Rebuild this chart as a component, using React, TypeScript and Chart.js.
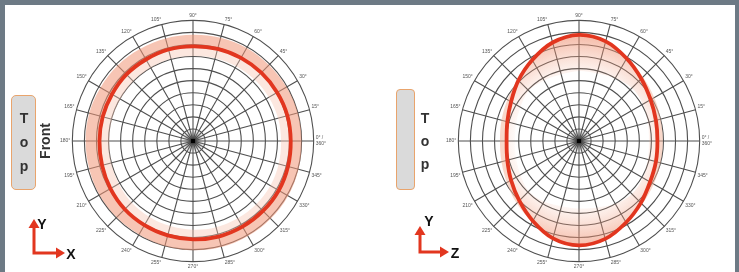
import React, { useEffect, useRef } from "react";
import { Chart, registerables } from "chart.js";

Chart.register(...registerables);

// Angle labels, clockwise starting from the top (90°), 0° on the right, counter-clockwise increase
const angleLabels: (string | string[])[] = [
  "90°", "75°", "60°", "45°", "30°", "15°", ["0° /", "360°"], "345°", "330°", "315°", "300°", "285°",
  "270°", "255°", "240°", "225°", "210°", "195°", "180°", "165°", "150°", "135°", "120°", "105°",
];

// Left plot (X-Y plane) – near-circular pattern
const leftPattern = [78.5, 79, 79.5, 80, 80.5, 81, 81, 81.5, 82, 82, 82, 82, 81.5, 81, 80.5, 80, 79, 78, 77.5, 77.5, 77.5, 78, 78, 78.5];
const leftBandOuter = [88, 88.5, 89, 89, 89.5, 90, 90, 90.5, 91, 91, 91, 91, 90.5, 90, 89.5, 89.5, 89.5, 89, 89, 89, 88.5, 88.5, 88, 88];
const leftBandInner = [70.5, 71, 71.5, 72, 72.5, 73, 73, 73.5, 74, 74, 74, 74, 73.5, 73, 72.5, 72, 71, 70, 69.5, 69.5, 69.5, 70, 70, 70.5];

// Right plot (Z-Y plane) – elliptical pattern
const rightPattern = [88, 85.5, 79, 73, 68.5, 66, 65, 66, 68, 72.5, 78, 84, 86.5, 83.5, 76.5, 70, 65, 61.5, 60, 61.5, 65, 71, 77.5, 84.5];
const rightBandOuter = [88.3, 86, 80.5, 75, 72, 70, 69.5, 70, 71.5, 74, 78.5, 84.2, 86.7, 84, 77.5, 73, 69, 66.5, 65.5, 66.5, 68.5, 72, 78, 84.7];
const rightBandInner = [58, 58, 60, 62, 61, 59, 58, 59, 61, 62, 60, 57, 56, 56, 58, 59, 56, 54, 53, 54, 56, 59, 58, 57];

// Hub at the centre of the grid
const hubShade = [10, 10, 10, 10, 10, 10, 10, 10, 10, 10, 10, 10, 10, 10, 10, 10, 10, 10, 10, 10, 10, 10, 10, 10];
const hubDot = [0, 0, 0, 0, 0, 0, 0, 0, 0, 0, 0, 0, 0, 0, 0, 0, 0, 0, 0, 0, 0, 0, 0, 0];

const RED = "#e2361f";
const GRID = "#4f4f4f";

function radialFill(stops: [number, string][]) {
  return (ctx: any) => {
    const chart = ctx.chart;
    const s = chart.scales && chart.scales.r;
    if (!s || !chart.chartArea || !isFinite(s.drawingArea) || s.drawingArea <= 0) return "rgba(0,0,0,0)";
    const g = chart.ctx.createRadialGradient(s.xCenter, s.yCenter, 0, s.xCenter, s.yCenter, s.drawingArea);
    stops.forEach(([o, c]) => g.addColorStop(o, c));
    return g;
  };
}

type PolarProps = {
  left: number;
  top: number;
  size: number;
  pattern: number[];
  outer: number[];
  inner: number[];
  outerColor: any;
  innerColor: any;
};

function PolarPattern(p: PolarProps) {
  const ref = useRef<HTMLCanvasElement>(null);
  useEffect(() => {
    if (!ref.current) return;
    const chart = new Chart(ref.current, {
      type: "radar",
      data: {
        labels: angleLabels as any,
        datasets: [
          {
            data: p.outer,
            borderWidth: 0,
            borderColor: "rgba(0,0,0,0)",
            pointRadius: 0,
            backgroundColor: p.outerColor,
            fill: 1,
            tension: 0.35,
            order: 3,
          },
          {
            data: p.pattern,
            borderWidth: 3.8,
            borderColor: RED,
            pointRadius: 0,
            fill: false,
            tension: 0.35,
            order: 0,
          },
          {
            data: p.inner,
            borderWidth: 0,
            borderColor: "rgba(0,0,0,0)",
            pointRadius: 0,
            backgroundColor: p.innerColor,
            fill: 1,
            tension: 0.35,
            order: 2,
          },
          {
            data: hubShade,
            borderWidth: 0,
            borderColor: "rgba(0,0,0,0)",
            pointRadius: 0,
            backgroundColor: radialFill([
              [0, "rgba(30,30,30,0.95)"],
              [0.04, "rgba(80,80,80,0.6)"],
              [0.1, "rgba(170,170,170,0)"],
            ]),
            fill: "origin",
            tension: 0.35,
            order: 4,
          },
          {
            data: hubDot,
            borderWidth: 0,
            pointRadius: 2,
            pointBorderWidth: 0,
            pointBackgroundColor: "#000",
            fill: false,
            order: 1,
          },
        ] as any,
      },
      options: {
        animation: false,
        responsive: false,
        events: [],
        layout: { padding: 0 },
        plugins: { legend: { display: false }, tooltip: { enabled: false } },
        scales: {
          r: {
            min: 0,
            max: 100,
            startAngle: 0,
            ticks: { stepSize: 10, display: false },
            grid: { circular: true, color: GRID, lineWidth: 1.1 },
            angleLines: { display: true, color: GRID, lineWidth: 1.1 },
            pointLabels: {
              display: true,
              padding: 2,
              color: "#555",
              font: { size: 5, family: "Arial, 'Liberation Sans', sans-serif" },
            },
          },
        },
      } as any,
    });
    return () => chart.destroy();
  }, []);
  return (
    <canvas
      ref={ref}
      width={p.size}
      height={p.size}
      style={{ position: "absolute", left: p.left, top: p.top, width: p.size, height: p.size }}
    />
  );
}

const letterStyle = { fontFamily: "Arial, 'Liberation Sans', sans-serif", fontWeight: 700 as const };

export default function App() {
  const frame = "#6d7a85";
  return (
    <div
      style={{
        position: "fixed",
        left: 0,
        top: 0,
        width: 739,
        height: 272,
        background: "#ffffff",
        overflow: "hidden",
      }}
    >
      <div style={{ position: "absolute", left: 0, top: 0, width: 739, height: 5, background: frame }} />
      <div style={{ position: "absolute", left: 0, top: 0, width: 5, height: 272, background: frame }} />
      <div style={{ position: "absolute", right: 0, top: 0, width: 4, height: 272, background: frame }} />

      <PolarPattern
        left={60}
        top={8}
        size={266}
        pattern={leftPattern}
        outer={leftBandOuter}
        inner={leftBandInner}
        outerColor={"rgba(240,150,118,0.55)"}
        innerColor={"rgba(248,196,176,0.4)"}
      />
      <PolarPattern
        left={446}
        top={8}
        size={266}
        pattern={rightPattern}
        outer={rightBandOuter}
        inner={rightBandInner}
        outerColor={"rgba(244,178,150,0.5)"}
        innerColor={radialFill([
          [0, "rgba(244,170,140,0)"],
          [0.5, "rgba(244,170,140,0)"],
          [0.88, "rgba(238,140,108,0.6)"],
          [1, "rgba(238,140,108,0.6)"],
        ])}
      />

      {/* Device boxes */}
      <div
        style={{
          position: "absolute",
          left: 11,
          top: 95,
          width: 23,
          height: 93,
          background: "#dadada",
          border: "1px solid #e9a46c",
          borderRadius: 5,
        }}
      />
      <div
        style={{
          position: "absolute",
          left: 396,
          top: 89,
          width: 17,
          height: 99,
          background: "#dadada",
          border: "1px solid #e9a46c",
          borderRadius: 4,
        }}
      />

      <svg width={739} height={272} style={{ position: "absolute", left: 0, top: 0 }}>
        <g fill="#333" style={letterStyle} fontSize={14} textAnchor="middle" dominantBaseline="central">
          <text x={24} y={118}>T</text>
          <text x={24} y={142}>o</text>
          <text x={24} y={166}>p</text>
          <text x={45} y={141} transform="rotate(-90 45 141)">Front</text>
          <text x={425} y={118}>T</text>
          <text x={425} y={141}>o</text>
          <text x={425} y={164}>p</text>
        </g>
        <g stroke={RED} strokeWidth={3} fill="none">
          <polyline points="34,227 34,253 57,253" />
          <polyline points="420,233 420,252 441,252" />
        </g>
        <g fill={RED}>
          <polygon points="34,219 28.5,228 39.5,228" />
          <polygon points="65,253 56,247.5 56,258.5" />
          <polygon points="420,226 414.5,235 425.5,235" />
          <polygon points="449,252 440,246.5 440,257.5" />
        </g>
        <g fill="#111" style={letterStyle} fontSize={14} textAnchor="middle" dominantBaseline="central">
          <text x={42} y={224}>Y</text>
          <text x={71} y={254}>X</text>
          <text x={429} y={221}>Y</text>
          <text x={455} y={253}>Z</text>
        </g>
      </svg>
    </div>
  );
}
